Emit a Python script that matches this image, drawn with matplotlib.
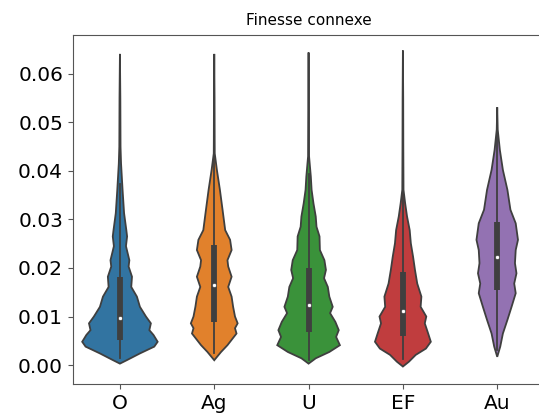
import matplotlib
matplotlib.use("Agg")
import matplotlib.pyplot as plt
import numpy as np

# Category names along the x axis
categories = ["O", "Ag", "U", "EF", "Au"]

# Violin outlines: value and relative density (1.0 = widest violin)
o_values = [0.0003, 0.0010, 0.0024, 0.0038, 0.0048, 0.0062, 0.0072, 0.0086, 0.0100, 0.0120,
            0.0141, 0.0161, 0.0182, 0.0203, 0.0216, 0.0245, 0.0265, 0.0278, 0.0313, 0.0361,
            0.0415, 0.0450, 0.0550, 0.0641]
o_density = [0, .18, .53, .91, 1.0, .89, .78, .82, .69, .53,
             .45, .30, .32, .23, .25, .16, .19, .17, .11, .07,
             .03, .016, .011, 0]

ag_values = [0.0010, 0.0027, 0.0041, 0.0055, 0.0065, 0.0076, 0.0086, 0.0100, 0.0120, 0.0141,
             0.0161, 0.0182, 0.0203, 0.0216, 0.0237, 0.0258, 0.0278, 0.0320, 0.0361, 0.0402,
             0.0436, 0.0464, 0.0550, 0.0641]
ag_density = [0, .18, .35, .49, .59, .55, .62, .55, .50, .46,
              .37, .46, .37, .35, .46, .42, .29, .22, .15, .07,
              .013, .011, .008, 0]

u_values = [0.0003, 0.0014, 0.0027, 0.0041, 0.0058, 0.0072, 0.0089, 0.0107, 0.0120, 0.0141,
            0.0161, 0.0179, 0.0196, 0.0216, 0.0237, 0.0265, 0.0285, 0.0306, 0.0333, 0.0361,
            0.0388, 0.0430, 0.0540, 0.0644]
u_density = [0, .19, .55, .83, .73, .80, .71, .57, .64, .55,
             .51, .41, .46, .42, .30, .29, .21, .19, .13, .08,
             .06, .013, .008, 0]

ef_values = [-0.0003, 0.0007, 0.0021, 0.0034, 0.0048, 0.0065, 0.0086, 0.0100, 0.0120, 0.0141,
             0.0168, 0.0196, 0.0223, 0.0251, 0.0278, 0.0306, 0.0333, 0.0361, 0.0450, 0.0550,
             0.0648]
ef_density = [0, .16, .34, .61, .74, .67, .58, .62, .47, .49,
              .38, .32, .27, .21, .18, .11, .06, .016, .011, .008,
              0]

au_values = [0.0017, 0.0038, 0.0065, 0.0093, 0.0120, 0.0148, 0.0168, 0.0189, 0.0210, 0.0237,
             0.0258, 0.0292, 0.0320, 0.0361, 0.0402, 0.0443, 0.0485, 0.0531]
au_density = [0, .08, .15, .27, .38, .49, .45, .51, .47, .49,
              .55, .49, .35, .27, .15, .07, .013, 0]

# Box statistics per category
q25 = [0.0052, 0.0089, 0.0069, 0.0060, 0.0155]
medians = [0.0098, 0.0165, 0.0124, 0.0111, 0.0223]
q75 = [0.0181, 0.0247, 0.0199, 0.0192, 0.0294]
whisker_low = [0.0014, 0.0024, 0.0010, 0.0012, 0.0031]
whisker_high = [0.0374, 0.0484, 0.0394, 0.0390, 0.0500]

profiles = [
    (o_values, o_density),
    (ag_values, ag_density),
    (u_values, u_density),
    (ef_values, ef_density),
    (au_values, au_density),
]

colors = ["#3274a1", "#e1812c", "#3a923a", "#c03d3e", "#9372b2"]
gray = "#3f3f3f"


def draw_violin(ax, pos, values, density, color):
    """Draw one violin body as a closed outline around its centre."""
    y = np.array(values)
    half = 0.4 * np.array(density)
    xs = np.concatenate([pos - half, (pos + half)[::-1]])
    ys = np.concatenate([y, y[::-1]])
    ax.fill(xs, ys, facecolor=color, edgecolor=gray, linewidth=1.3, zorder=1)


def main():
    fig = plt.figure(figsize=(5.39, 4.19), dpi=100)
    # the right spine sits just past the picture's edge, as in the reference crop
    ax = fig.add_axes([0.135, 0.0835, 0.875, 0.833])

    for i, (values, density) in enumerate(profiles):
        draw_violin(ax, i, values, density, colors[i])
        ax.plot([i, i], [whisker_low[i], whisker_high[i]], color=gray, linewidth=1.3, zorder=2)
        ax.plot([i, i], [q25[i], q75[i]], color=gray, linewidth=4.2,
                solid_capstyle="butt", zorder=2)
        ax.scatter(i, medians[i], s=9, color="white", edgecolor=gray, linewidth=0.5, zorder=3)

    ax.set_xlim(-0.5, 4.5)
    ax.set_ylim(-0.0039, 0.0680)
    ax.set_xticks(range(len(categories)))
    ax.set_xticklabels(categories)
    ax.set_yticks([0.00, 0.01, 0.02, 0.03, 0.04, 0.05, 0.06])
    ax.set_yticklabels([f"{t:.2f}" for t in ax.get_yticks()])
    ax.tick_params(labelsize=14.5, length=3.5, color="#555555")
    for spine in ax.spines.values():
        spine.set_color("#555555")
    ax.set_title("Finesse connexe", fontsize=11, pad=7)

    fig.savefig("out.png", dpi=100)


if __name__ == "__main__":
    main()
